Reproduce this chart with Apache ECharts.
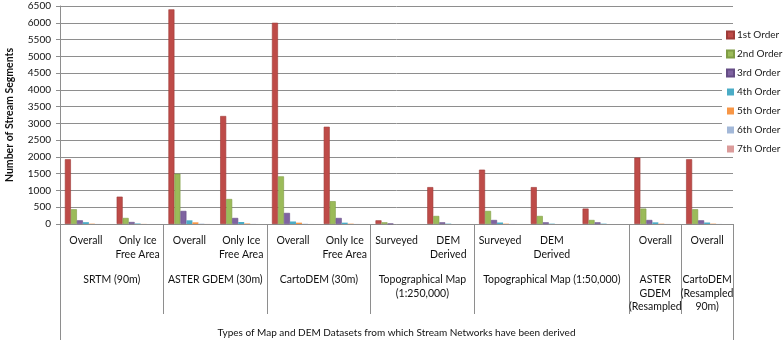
<!DOCTYPE html>
<html><head><meta charset="utf-8">
<script src="https://cdn.jsdelivr.net/npm/echarts@6/dist/echarts.min.js"></script>
<style>html,body{margin:0;padding:0;background:#fff}#c{width:784px;height:340px}</style>
</head><body><div id="c"></div>
<script>
// ---- data ----
const categories = ['Overall', 'Only Ice\nFree Area', 'Overall', 'Only Ice\nFree Area', 'Overall', 'Only Ice\nFree Area',
  'Surveyed', 'DEM\nDerived', 'Surveyed', 'DEM\nDerived', '', 'Overall', 'Overall'];
const groupNames = ['SRTM (90m)', 'ASTER GDEM (30m)', 'CartoDEM (30m)', 'Topographical Map\n(1:250,000)',
  'Topographical Map (1:50,000)', 'ASTER\nGDEM\n(Resampled', 'CartoDEM\n(Resampled\n90m)'];
const groupSizes = [2, 2, 2, 2, 3, 1, 1];
const seriesNames = ['1st Order', '2nd Order', '3rd Order', '4th Order', '5th Order', '6th Order', '7th Order'];
const order1 = [1930, 815, 6400, 3220, 6000, 2900, 110, 1100, 1620, 1100, 460, 1980, 1930];
const order2 = [440, 180, 1500, 745, 1420, 680, 50, 240, 390, 240, 120, 460, 440];
const order3 = [110, 60, 390, 180, 330, 180, 10, 50, 120, 50, 50, 120, 110];
const order4 = [55, 15, 110, 60, 75, 40, 0, 10, 45, 10, 10, 50, 45];
const order5 = [10, 3, 50, 15, 40, 10, 0, 0, 10, 0, 0, 10, 10];
const order6 = [2, 0, 10, 3, 8, 2, 0, 0, 2, 0, 0, 2, 2];
const order7 = [0, 0, 2, 0, 1, 0, 0, 0, 0, 0, 0, 0, 0];
const yTicks = {min: 0, max: 6500, interval: 500};
const xTitle = 'Types of Map and DEM Datasets from which Stream Networks have been derived';
const yTitle = 'Number of Stream Segments';

// ---- styling ----
const colors = ['#BE4B48', '#9BBB59', '#7F63A1', '#4BACC6', '#F79646', '#A3B8D8', '#DB9B9A'];
const borders = ['#9E3B38', '#7F9C45', '#654D85', '#3A8EA6', '#D57A2E', '#8399BC', '#BC7C7B'];
const borderWidths = [0.6, 0.6, 0.6, 0, 0, 0, 0];
const FONT = 'Lato';
const allData = [order1, order2, order3, order4, order5, order6, order7];

// group boundaries / centers derived from sizes
const bounds = [0];
groupSizes.forEach(s => bounds.push(bounds[bounds.length - 1] + s));
const centers = groupSizes.map((s, i) => bounds[i] + s / 2);
const innerBounds = bounds.slice(1, -1);
const outerBounds = [bounds[0], bounds[bounds.length - 1]];
const total = bounds[bounds.length - 1];
const nameAt = v => { const i = centers.findIndex(c => Math.abs(c - v) < 1e-6); return i >= 0 ? groupNames[i] : ''; };

function groupLabelAxis(values) {
  return {
    type: 'value', min: 0, max: total, position: 'bottom',
    axisLine: {show: false}, splitLine: {show: false}, axisTick: {show: false},
    axisLabel: {
      show: true, customValues: values, margin: 49, fontSize: 10.5, color: '#111', lineHeight: 13.5, fontFamily: FONT,
      showMinLabel: true, showMaxLabel: true, hideOverlap: false, formatter: nameAt
    }
  };
}

const chart = echarts.init(document.getElementById('c'));
chart.setOption({
  animation: false,
  color: colors,
  textStyle: {fontFamily: FONT},
  grid: {left: 60, right: 51, top: 6, bottom: 116, containLabel: false, outerBoundsMode: 'none'},
  legend: {
    orient: 'vertical', left: 722, top: 27,
    itemWidth: 7, itemHeight: 7, itemGap: 7,
    backgroundColor: '#fff', padding: [2, 0, 2, 4],
    icon: 'rect',
    textStyle: {fontFamily: FONT, fontSize: 10, color: '#222', lineHeight: 12, padding: [0, 0, 0, -2]},
    data: seriesNames
  },
  xAxis: [
    {
      type: 'category', data: categories, position: 'bottom',
      axisLine: {lineStyle: {color: '#8e8e8e'}},
      axisTick: {show: false},
      axisLabel: {interval: 0, margin: 10, fontSize: 10.5, color: '#111', lineHeight: 14, fontFamily: FONT}
    },
    {
      type: 'value', min: 0, max: total, position: 'bottom',
      axisLine: {show: false},
      splitLine: {show: false},
      axisTick: {show: true, customValues: innerBounds, length: 90, lineStyle: {color: '#8e8e8e'}},
      axisLabel: {show: false},
      name: xTitle, nameLocation: 'middle', nameGap: 104,
      nameTextStyle: {fontSize: 10, color: '#111', fontFamily: FONT}
    },
    {
      type: 'value', min: 0, max: total, position: 'bottom',
      axisLine: {show: false}, splitLine: {show: false},
      axisTick: {show: true, customValues: outerBounds, length: 116, lineStyle: {color: '#8e8e8e'}},
      axisLabel: {show: false}
    },
    groupLabelAxis(centers.filter((c, i) => i % 2 === 0)),
    groupLabelAxis(centers.filter((c, i) => i % 2 === 1))
  ],
  yAxis: {
    type: 'value', min: yTicks.min, max: yTicks.max, interval: yTicks.interval,
    axisLine: {show: true, lineStyle: {color: '#8e8e8e'}},
    axisTick: {show: true, length: 4, lineStyle: {color: '#8e8e8e'}},
    splitLine: {lineStyle: {color: '#8e8e8e', width: 1}},
    axisLabel: {fontSize: 10, color: '#111', margin: 9, fontFamily: FONT, formatter: v => String(v)},
    name: yTitle, nameLocation: 'middle', nameGap: 45,
    nameTextStyle: {fontSize: 10.5, fontWeight: 'bold', color: '#111', fontFamily: FONT}
  },
  series: seriesNames.map((n, i) => ({
    name: n, type: 'bar', xAxisIndex: 0, data: allData[i],
    barWidth: 6, barGap: '0%',
    itemStyle: {color: colors[i], borderColor: borders[i], borderWidth: borderWidths[i]}
  }))
});
</script></body></html>
